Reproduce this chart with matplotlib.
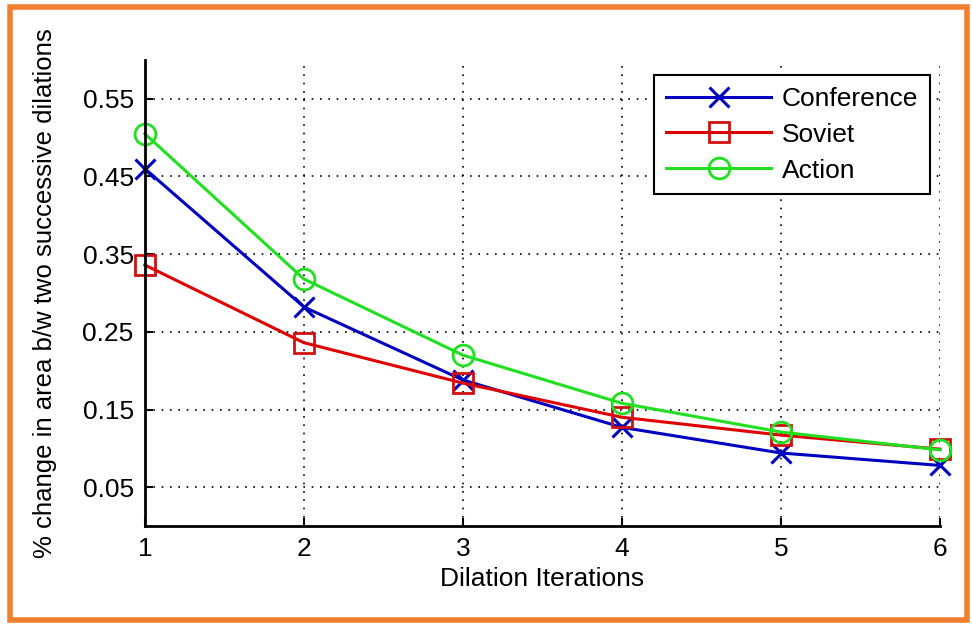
import matplotlib
matplotlib.use('Agg')
import matplotlib.pyplot as plt
from matplotlib.patches import Rectangle

plt.rcParams['font.family'] = ['Liberation Sans', 'DejaVu Sans']

# Data
iterations = [1, 2, 3, 4, 5, 6]
conference = [0.460, 0.282, 0.188, 0.127, 0.094, 0.078]
soviet = [0.336, 0.236, 0.184, 0.140, 0.117, 0.099]
action = [0.505, 0.318, 0.220, 0.158, 0.121, 0.098]
yticks = [0.05, 0.15, 0.25, 0.35, 0.45, 0.55]

fig = plt.figure(figsize=(9.72, 6.24), dpi=100)
ax = fig.add_axes([0.149, 0.157, 0.818, 0.747])

ax.plot(iterations, conference, color='#0000c0', lw=2.2, marker='x',
        ms=15, mew=2.2, label='Conference', clip_on=False)
ax.plot(iterations, soviet, color='#e00000', lw=2.2, marker='s',
        ms=15, mew=2, mfc='none', mec='#d01010', label='Soviet', clip_on=False)
ax.plot(iterations, action, color='#20e020', lw=2.2, marker='o',
        ms=15, mew=2, mfc='none', label='Action', clip_on=False)

ax.set_xlim(1, 6)
ax.set_ylim(0, 0.6)
ax.set_xticks(iterations)
ax.set_yticks(yticks)
ax.set_yticklabels(['%.2f' % v for v in yticks])
ax.tick_params(direction='in', length=6, width=1.5, labelsize=19, pad=8)
ax.grid(True, linestyle=(0, (1, 4)), color='black', lw=1.2)

for s in ['top', 'right']:
    ax.spines[s].set_visible(False)
for s in ['left', 'bottom']:
    ax.spines[s].set_linewidth(2)

ax.set_xlabel('Dilation Iterations', fontsize=19, labelpad=4)
ax.set_ylabel('% change in area b/w two successive dilations', fontsize=18.5,
              labelpad=18)

leg = ax.legend(loc='upper right', bbox_to_anchor=(0.957, 0.880),
                bbox_transform=fig.transFigure, fontsize=19, fancybox=False,
                edgecolor='black', framealpha=1, handlelength=4,
                borderpad=0.45, labelspacing=0.45, handletextpad=0.4,
                borderaxespad=0)
leg.get_frame().set_linewidth(1.5)

# orange border around the figure
fig.patches.append(Rectangle((0.01, 0.006), 0.985, 0.982,
                             transform=fig.transFigure, fill=False,
                             edgecolor='#f08030', lw=4))

fig.savefig('out.png', dpi=100)
